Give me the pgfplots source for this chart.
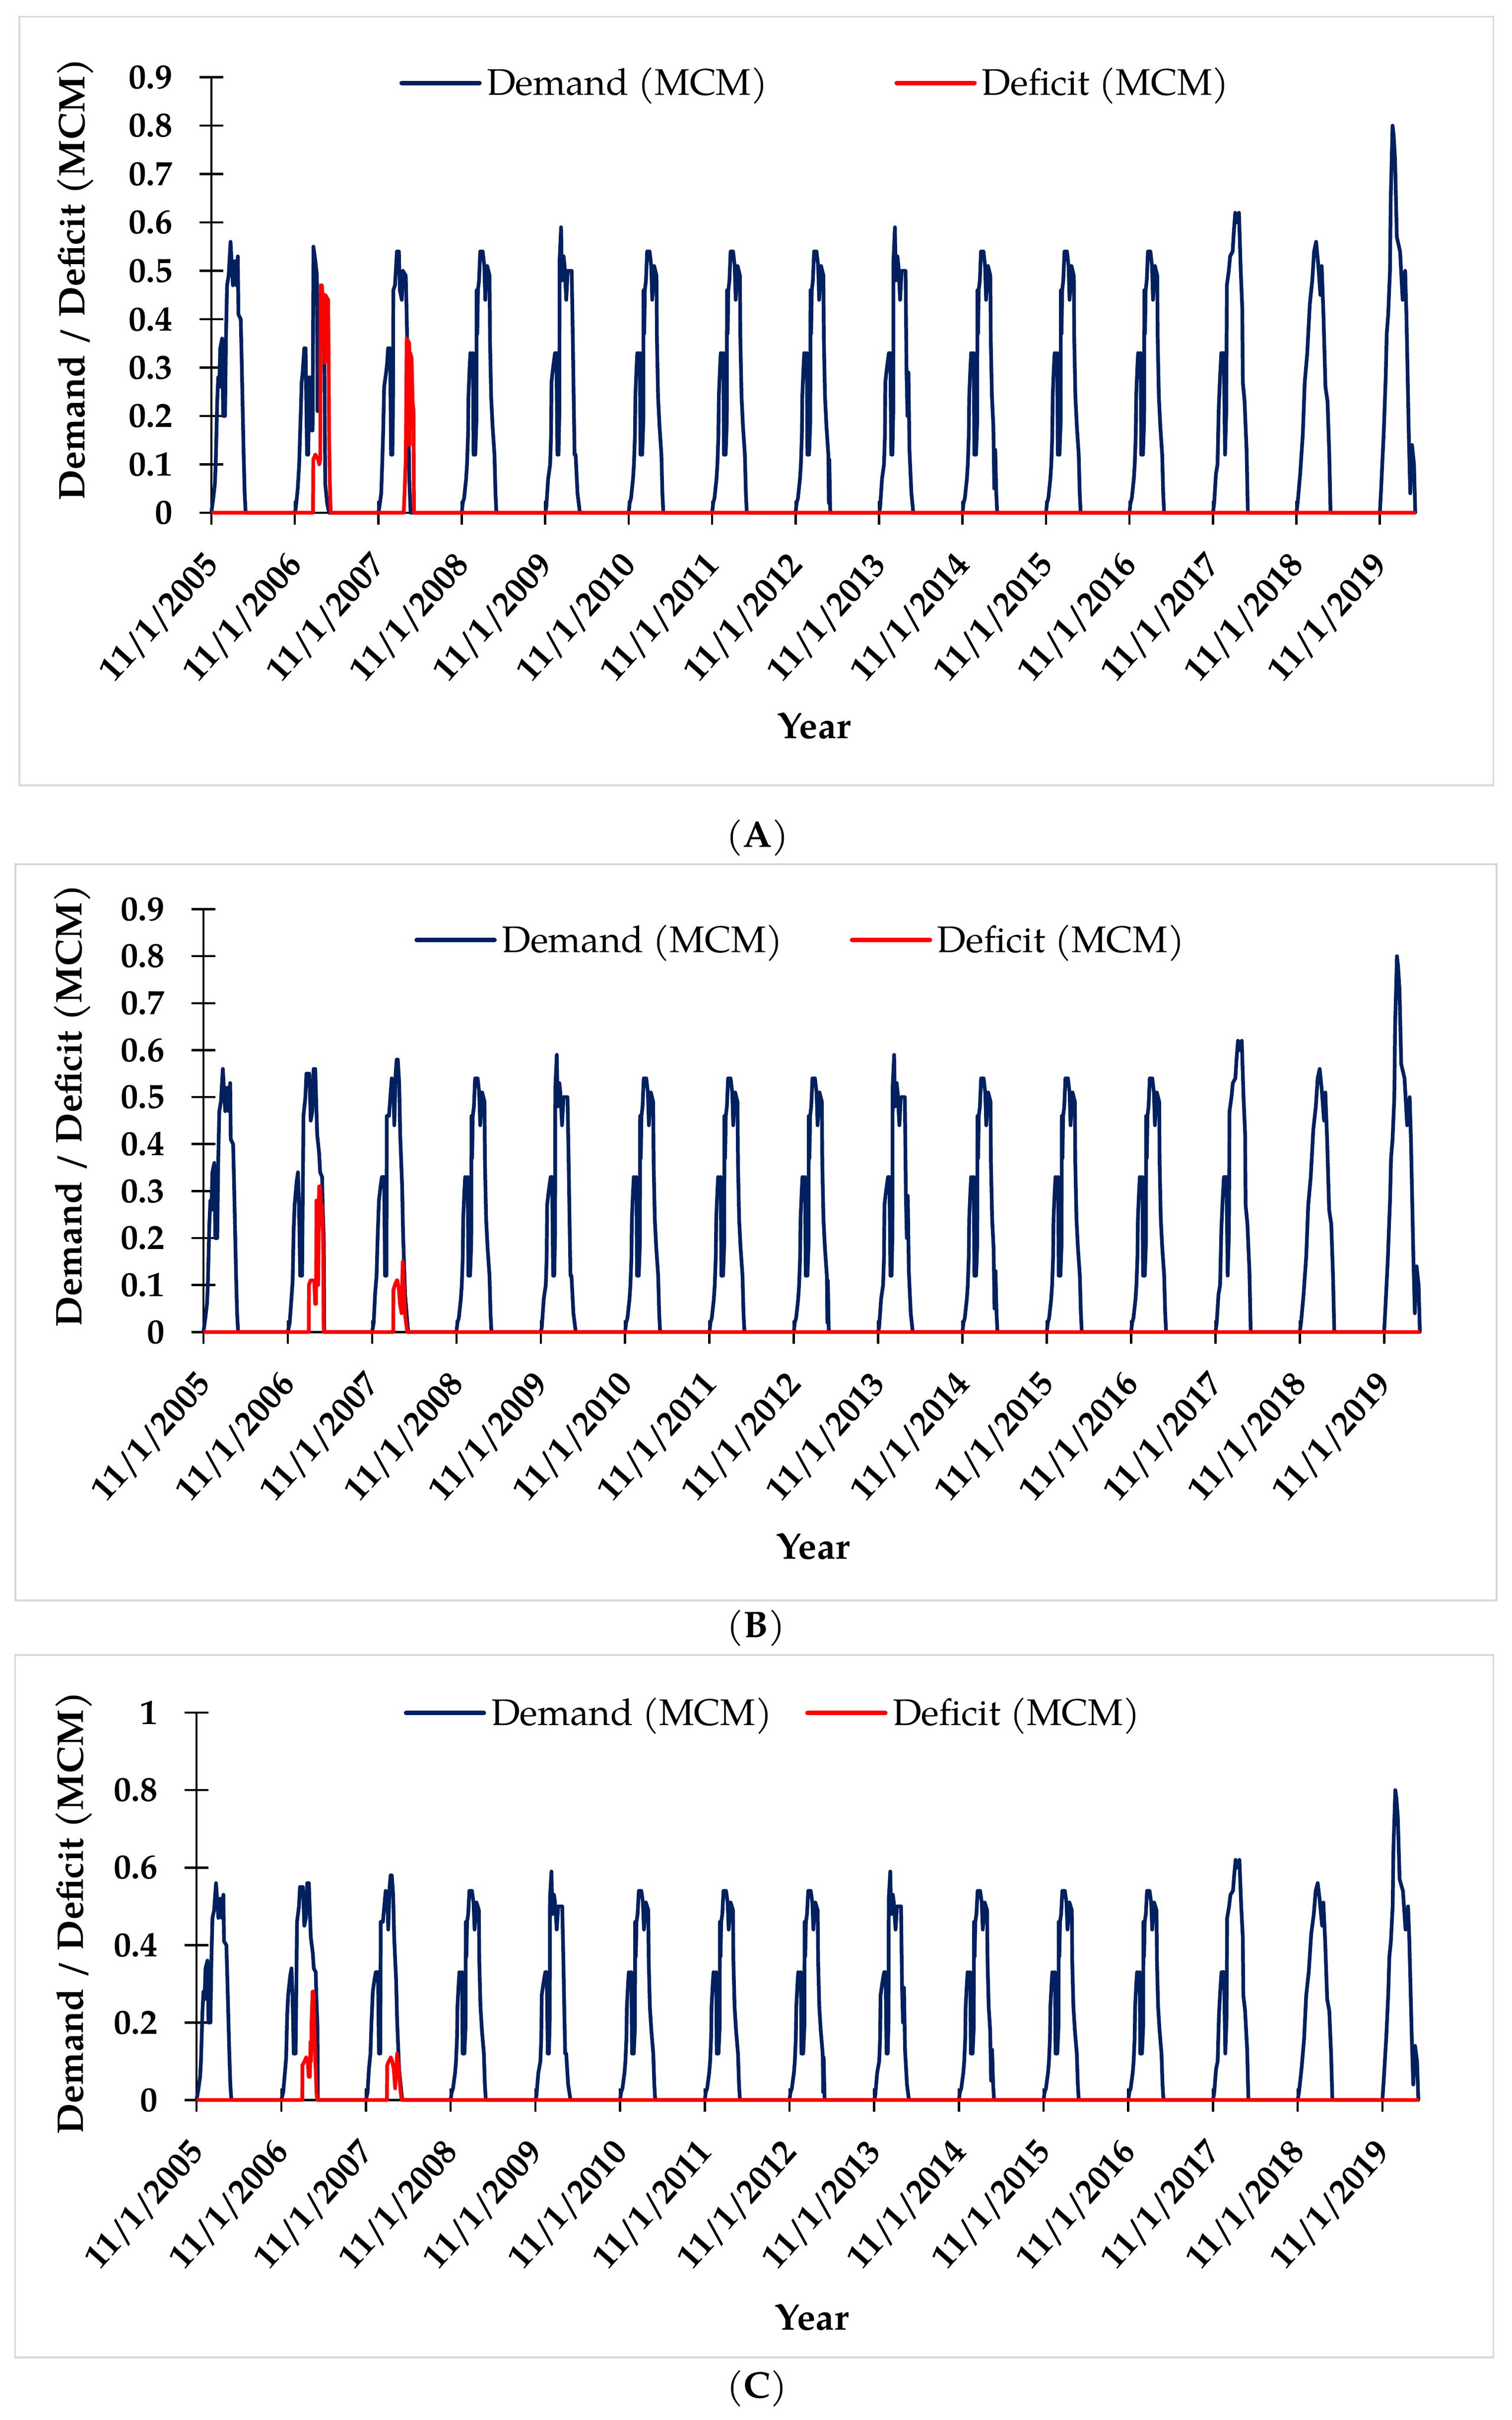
\documentclass[border=0pt]{standalone}
\usepackage{fontspec}
\usepackage{pgfplots}
\usepackage{pgfplotstable}
\pgfplotsset{compat=1.18}
\setmainfont{texgyrepagella}[Extension=.otf, UprightFont=*-regular, BoldFont=*-bold, ItalicFont=*-italic, BoldItalicFont=*-bolditalic]

\definecolor{demand}{RGB}{0,32,96}
\definecolor{framegray}{RGB}{217,217,217}

% demand, first season (same in all three panels)
\pgfplotstableread{
x y
0.000 0.00
0.023 0.03
0.042 0.06
0.052 0.10
0.059 0.15
0.070 0.23
0.082 0.28
0.094 0.26
0.106 0.34
0.129 0.36
0.141 0.20
0.164 0.20
0.176 0.37
0.188 0.47
0.207 0.49
0.230 0.56
0.258 0.47
0.282 0.52
0.300 0.47
0.317 0.53
0.324 0.41
0.352 0.40
0.364 0.31
0.376 0.21
0.387 0.12
0.399 0.04
0.411 0.00
}\demFirst

% demand, seasons 2006-07 and 2007-08 of panel A
\pgfplotstableread{
x y
0.411 0.00
1.000 0.00
1.012 0.01
1.035 0.05
1.052 0.10
1.059 0.14
1.070 0.20
1.082 0.27
1.094 0.29
1.113 0.34
1.129 0.34
1.146 0.12
1.160 0.12
1.176 0.28
1.188 0.27
1.204 0.17
1.213 0.17
1.223 0.55
1.246 0.52
1.265 0.49
1.272 0.21
1.292 0.22
1.300 0.45
1.340 0.44
1.355 0.31
1.364 0.06
1.387 0.02
1.410 0.00
2.000 0.00
2.012 0.01
2.035 0.04
2.047 0.10
2.059 0.17
2.070 0.26
2.094 0.29
2.106 0.31
2.117 0.34
2.141 0.34
2.153 0.12
2.169 0.12
2.176 0.21
2.180 0.46
2.200 0.47
2.223 0.54
2.247 0.54
2.258 0.46
2.282 0.44
2.294 0.50
2.329 0.49
2.340 0.41
2.352 0.30
2.364 0.16
2.371 0.07
2.387 0.00
3.000 0.00
}\demMidA

% demand, seasons 2006-07 and 2007-08 of panels B and C
\pgfplotstableread{
x y
0.411 0.00
1.000 0.00
1.023 0.02
1.047 0.08
1.058 0.11
1.070 0.22
1.081 0.27
1.105 0.32
1.121 0.34
1.133 0.27
1.147 0.12
1.170 0.12
1.186 0.46
1.209 0.50
1.221 0.55
1.256 0.55
1.272 0.45
1.291 0.47
1.307 0.56
1.326 0.56
1.337 0.49
1.349 0.42
1.372 0.38
1.384 0.34
1.407 0.33
1.414 0.27
1.428 0.19
1.432 0.00
2.000 0.00
2.019 0.02
2.035 0.08
2.053 0.12
2.065 0.20
2.081 0.28
2.100 0.31
2.116 0.33
2.142 0.33
2.153 0.12
2.170 0.12
2.174 0.46
2.200 0.46
2.216 0.50
2.233 0.54
2.251 0.53
2.263 0.44
2.279 0.55
2.291 0.58
2.305 0.58
2.321 0.53
2.333 0.42
2.356 0.31
2.367 0.21
2.391 0.08
2.414 0.03
2.428 0.00
3.000 0.00
}\demMidBC

% demand, seasons 2008-09 to 2019-20 (same in all three panels)
\pgfplotstableread{
x y
3.000 0.00
3.012 0.02
3.028 0.03
3.052 0.07
3.063 0.10
3.075 0.16
3.080 0.24
3.094 0.30
3.103 0.33
3.120 0.31
3.134 0.33
3.141 0.12
3.162 0.12
3.176 0.19
3.178 0.46
3.186 0.37
3.194 0.46
3.207 0.48
3.221 0.54
3.251 0.54
3.270 0.51
3.282 0.44
3.305 0.51
3.333 0.49
3.338 0.36
3.352 0.24
3.369 0.18
3.392 0.12
3.404 0.04
3.415 0.00
4.000 0.00
4.012 0.01
4.035 0.07
4.059 0.10
4.070 0.16
4.075 0.27
4.094 0.30
4.117 0.33
4.134 0.33
4.146 0.12
4.160 0.12
4.170 0.21
4.172 0.52
4.190 0.59
4.200 0.48
4.220 0.53
4.232 0.51
4.252 0.44
4.270 0.50
4.300 0.50
4.317 0.50
4.329 0.38
4.340 0.25
4.352 0.12
4.364 0.12
4.387 0.04
4.415 0.00
5.000 0.00
5.012 0.02
5.028 0.03
5.052 0.07
5.063 0.10
5.075 0.16
5.080 0.24
5.094 0.30
5.103 0.33
5.120 0.31
5.134 0.33
5.141 0.12
5.162 0.12
5.176 0.19
5.178 0.46
5.186 0.37
5.194 0.46
5.207 0.48
5.221 0.54
5.251 0.54
5.270 0.51
5.282 0.44
5.305 0.51
5.333 0.49
5.338 0.36
5.352 0.24
5.369 0.18
5.392 0.12
5.404 0.04
5.415 0.00
6.000 0.00
6.012 0.02
6.028 0.03
6.052 0.07
6.063 0.10
6.075 0.16
6.080 0.24
6.094 0.30
6.103 0.33
6.120 0.31
6.134 0.33
6.141 0.12
6.162 0.12
6.176 0.19
6.178 0.46
6.186 0.37
6.194 0.46
6.207 0.48
6.221 0.54
6.251 0.54
6.270 0.51
6.282 0.44
6.305 0.51
6.333 0.49
6.338 0.36
6.352 0.24
6.369 0.18
6.392 0.12
6.404 0.04
6.415 0.00
7.000 0.00
7.012 0.02
7.028 0.03
7.052 0.07
7.063 0.10
7.075 0.16
7.080 0.24
7.094 0.30
7.103 0.33
7.120 0.31
7.134 0.33
7.141 0.12
7.162 0.12
7.176 0.19
7.178 0.46
7.186 0.37
7.194 0.46
7.207 0.48
7.221 0.54
7.251 0.54
7.270 0.51
7.282 0.44
7.305 0.51
7.333 0.49
7.338 0.36
7.352 0.24
7.369 0.18
7.392 0.12
7.398 0.02
7.404 0.11
7.415 0.00
8.000 0.00
8.012 0.01
8.035 0.07
8.059 0.10
8.070 0.16
8.075 0.27
8.094 0.30
8.117 0.33
8.134 0.33
8.146 0.12
8.160 0.12
8.170 0.21
8.172 0.52
8.190 0.59
8.200 0.48
8.220 0.53
8.232 0.51
8.252 0.44
8.270 0.50
8.300 0.50
8.317 0.50
8.329 0.29
8.340 0.20
8.352 0.29
8.364 0.13
8.387 0.04
8.410 0.00
9.000 0.00
9.012 0.02
9.028 0.03
9.052 0.07
9.063 0.10
9.075 0.16
9.080 0.24
9.094 0.30
9.103 0.33
9.120 0.31
9.134 0.33
9.141 0.12
9.162 0.12
9.176 0.19
9.178 0.46
9.186 0.37
9.194 0.46
9.207 0.48
9.221 0.54
9.251 0.54
9.270 0.51
9.282 0.44
9.305 0.51
9.333 0.49
9.338 0.36
9.352 0.24
9.369 0.18
9.380 0.05
9.392 0.13
9.404 0.04
9.415 0.00
10.000 0.00
10.012 0.02
10.028 0.03
10.052 0.07
10.063 0.10
10.075 0.16
10.080 0.24
10.094 0.30
10.103 0.33
10.120 0.31
10.134 0.33
10.141 0.12
10.162 0.12
10.176 0.19
10.178 0.46
10.186 0.37
10.194 0.46
10.207 0.48
10.221 0.54
10.251 0.54
10.270 0.51
10.282 0.44
10.305 0.51
10.333 0.49
10.338 0.36
10.352 0.24
10.369 0.18
10.392 0.12
10.404 0.04
10.415 0.00
11.000 0.00
11.012 0.02
11.028 0.03
11.052 0.07
11.063 0.10
11.075 0.16
11.080 0.24
11.094 0.30
11.103 0.33
11.120 0.31
11.134 0.33
11.141 0.12
11.162 0.12
11.176 0.19
11.178 0.46
11.186 0.37
11.194 0.46
11.207 0.48
11.221 0.54
11.251 0.54
11.270 0.51
11.282 0.44
11.305 0.51
11.333 0.49
11.338 0.36
11.352 0.24
11.369 0.18
11.392 0.12
11.404 0.04
11.415 0.00
12.000 0.00
12.015 0.02
12.036 0.08
12.055 0.10
12.070 0.22
12.085 0.28
12.100 0.33
12.130 0.33
12.145 0.12
12.160 0.21
12.167 0.47
12.190 0.50
12.206 0.53
12.236 0.54
12.250 0.58
12.267 0.62
12.290 0.60
12.312 0.62
12.333 0.50
12.352 0.42
12.358 0.27
12.379 0.23
12.403 0.13
12.418 0.00
13.000 0.00
13.015 0.02
13.045 0.08
13.076 0.16
13.100 0.27
13.130 0.33
13.160 0.43
13.190 0.48
13.212 0.54
13.236 0.56
13.258 0.52
13.288 0.45
13.303 0.51
13.324 0.41
13.348 0.26
13.373 0.23
13.394 0.12
13.409 0.00
14.000 0.00
14.015 0.05
14.045 0.16
14.070 0.28
14.082 0.37
14.100 0.41
14.121 0.50
14.130 0.65
14.152 0.80
14.165 0.78
14.182 0.73
14.203 0.57
14.242 0.54
14.273 0.44
14.303 0.50
14.318 0.41
14.333 0.28
14.348 0.15
14.364 0.04
14.385 0.14
14.409 0.10
14.424 0.00
}\demLate

% deficit, panel A
\pgfplotstableread{
x y
0.000 0.00
1.218 0.00
1.221 0.11
1.246 0.12
1.280 0.11
1.293 0.10
1.305 0.11
1.310 0.47
1.324 0.47
1.332 0.45
1.352 0.45
1.359 0.31
1.365 0.45
1.399 0.44
1.405 0.32
1.411 0.16
1.420 0.06
1.430 0.00
2.305 0.00
2.317 0.05
2.329 0.11
2.340 0.36
2.371 0.35
2.376 0.14
2.383 0.33
2.399 0.32
2.411 0.23
2.423 0.21
2.427 0.00
14.430 0.00
}\defA

% deficit, panel B
\pgfplotstableread{
x y
0.000 0.00
1.249 0.00
1.251 0.10
1.270 0.11
1.300 0.11
1.314 0.11
1.325 0.06
1.335 0.06
1.340 0.28
1.350 0.12
1.360 0.10
1.372 0.31
1.384 0.31
1.395 0.25
1.407 0.27
1.419 0.19
1.426 0.00
2.251 0.00
2.253 0.09
2.270 0.10
2.293 0.11
2.300 0.11
2.318 0.09
2.330 0.06
2.350 0.04
2.363 0.15
2.372 0.12
2.386 0.06
2.395 0.03
2.416 0.00
14.430 0.00
}\defB

% deficit, panel C
\pgfplotstableread{
x y
0.000 0.00
1.248 0.00
1.250 0.09
1.275 0.10
1.294 0.11
1.313 0.10
1.324 0.06
1.338 0.06
1.345 0.15
1.352 0.10
1.358 0.20
1.370 0.28
1.380 0.28
1.392 0.18
1.405 0.09
1.416 0.02
1.425 0.00
2.248 0.00
2.250 0.09
2.270 0.10
2.294 0.11
2.310 0.10
2.328 0.08
2.345 0.03
2.368 0.12
2.380 0.10
2.395 0.06
2.405 0.03
2.421 0.00
14.430 0.00
}\defC

\pgfplotsset{
  panel/.style={
    scale only axis, clip=false,
    xmin=0, xmax=14.44, ymin=0,
    axis x line*=bottom, axis y line*=left,
    xtick pos=bottom, ytick pos=left,
    axis line style={line width=1.1pt, black},
    tick align=center,
    major tick length=11.5pt,
    tick style={line width=1.1pt, black},
    xtick={0,1,...,14},
    xticklabels={11/1/2005,11/1/2006,11/1/2007,11/1/2008,11/1/2009,11/1/2010,11/1/2011,11/1/2012,11/1/2013,11/1/2014,11/1/2015,11/1/2016,11/1/2017,11/1/2018,11/1/2019},
    ticklabel style={font=\fontsize{17}{19}\selectfont\bfseries},
    /pgf/number format/assume math mode=true,
    yticklabel style={/pgf/number format/fixed, /pgf/number format/precision=1, anchor=east, inner sep=0pt},
    yticklabel shift=13pt,
    xticklabel style={inner sep=0pt, xshift=1pt, yshift=-17pt, rotate=48, anchor=east},
    xlabel={Year},
    ylabel={Demand / Deficit (MCM)},
    label style={font=\fontsize{18}{20}\selectfont\bfseries},
    legend style={draw=none, fill=none, font=\fontsize{18}{20}\selectfont, anchor=center, inner sep=0pt, nodes={inner sep=2.5pt}},
    legend columns=2,
    legend image code/.code={\draw[#1, line width=2.2pt, line cap=round] (1.1pt,0pt) -- (38.9pt,0pt);},
  },
  dem/.style={color=demand, line width=1.8pt, line join=round, mark=none},
  def/.style={color=red, line width=1.8pt, line join=round, mark=none},
}

\begin{document}
\begin{tikzpicture}
% panel frames
\draw[framegray, line width=0.9pt] (9.4pt,-8.1pt) rectangle (726pt,-381.7pt);
\draw[framegray, line width=0.9pt] (7.5pt,-420pt) rectangle (727.5pt,-777.75pt);
\draw[framegray, line width=0.9pt] (7.35pt,-804.3pt) rectangle (726pt,-1145.55pt);

% (A)
\begin{axis}[panel,
  at={(102.75pt,-249.15pt)}, anchor=south west,
  width=585.9pt, height=211.6pt,
  ymax=0.9, ytick={0,0.1,...,0.9},
  ylabel style={at={(axis description cs:-0.1127,0.536)}, anchor=center},
  xlabel style={at={(axis description cs:0.500,-0.490)}, anchor=center},
  legend style={at={(axis description cs:0.5024,0.987)}, /tikz/every even column/.append style={column sep=59pt}},
]
\addplot[dem] table {\demFirst};
\addlegendentry{Demand (MCM)}
\addplot[dem, forget plot] table {\demMidA};
\addplot[dem, forget plot] table {\demLate};
\addplot[def] table {\defA};
\addlegendentry{Deficit (MCM)}
\end{axis}

% (B)
\begin{axis}[panel,
  at={(98.9pt,-647.3pt)}, anchor=south west,
  width=592pt, height=205.5pt,
  ymax=0.9, ytick={0,0.1,...,0.9},
  ylabel style={at={(axis description cs:-0.1076,0.535)}, anchor=center},
  xlabel style={at={(axis description cs:0.5005,-0.507)}, anchor=center},
  legend style={at={(axis description cs:0.4916,0.927)}, /tikz/every even column/.append style={column sep=30pt}},
]
\addplot[dem] table {\demFirst};
\addlegendentry{Demand (MCM)}
\addplot[dem, forget plot] table {\demMidBC};
\addplot[dem, forget plot] table {\demLate};
\addplot[def] table {\defB};
\addlegendentry{Deficit (MCM)}
\end{axis}

% (C)
\begin{axis}[panel,
  at={(95.55pt,-1020.5pt)}, anchor=south west,
  width=594.6pt, height=188.25pt,
  ymax=1, ytick={0,0.2,0.4,0.6,0.8,1},
  ylabel style={at={(axis description cs:-0.1005,0.483)}, anchor=center},
  xlabel style={at={(axis description cs:0.503,-0.561)}, anchor=center},
  legend style={at={(axis description cs:0.4725,0.999)}, /tikz/every even column/.append style={column sep=13.5pt}},
]
\addplot[dem] table {\demFirst};
\addlegendentry{Demand (MCM)}
\addplot[dem, forget plot] table {\demMidBC};
\addplot[dem, forget plot] table {\demLate};
\addplot[def] table {\defC};
\addlegendentry{Deficit (MCM)}
\end{axis}

% captions
\node[font=\fontsize{18}{20}\selectfont] at (368.25pt,-407.1pt) {(\textbf{A})};
\node[font=\fontsize{18}{20}\selectfont] at (367.5pt,-791.25pt) {(\textbf{B})};
\node[font=\fontsize{18}{20}\selectfont] at (368pt,-1160.7pt) {(\textbf{C})};

\pgfresetboundingbox
\path[use as bounding box] (0pt,0pt) rectangle (735pt,-1176pt);
\end{tikzpicture}
\end{document}
